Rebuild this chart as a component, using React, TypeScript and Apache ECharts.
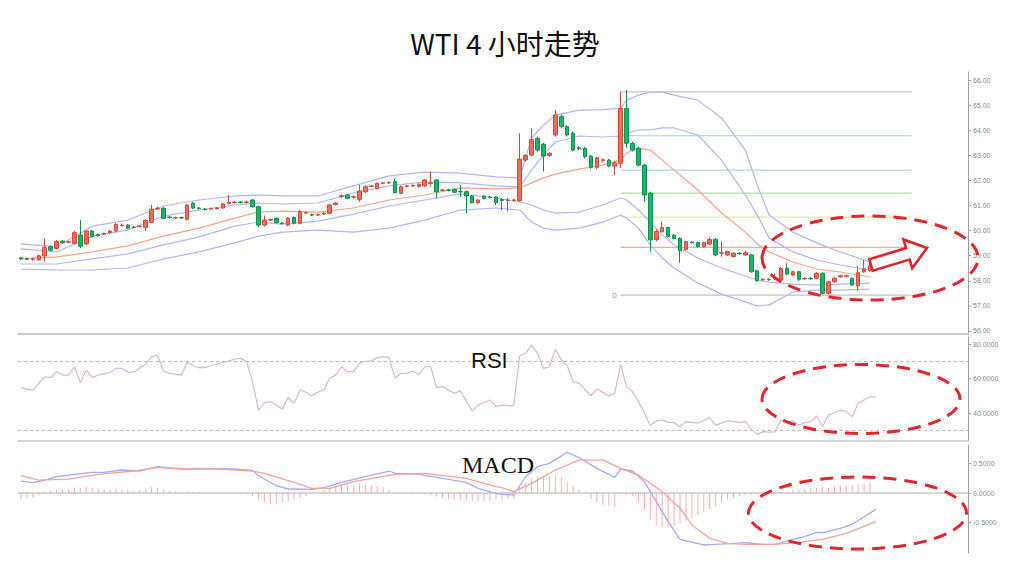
import React, { useEffect, useRef } from "react";
import * as echarts from "echarts";

// ---------------- data ----------------
const SLOT_COUNT = 160;
const categories: string[] = Array.from({ length: SLOT_COUNT }, (_, i) => `K${i + 1}`);

// [open, close, low, high]
const candles: number[][] = [
  [58.92, 58.88, 58.83, 58.96], [58.88, 58.86, 58.82, 58.93], [58.86, 58.88, 58.8, 58.92], [58.84, 59.0, 58.8, 59.05],
  [58.99, 59.33, 58.76, 59.69], [59.36, 59.22, 59.18, 59.42], [59.29, 59.56, 59.25, 59.62], [59.58, 59.52, 59.48, 59.62],
  [59.54, 59.56, 59.5, 59.6], [59.49, 59.92, 59.45, 59.98], [59.82, 59.38, 59.3, 60.42], [59.47, 59.98, 59.43, 60.02],
  [59.98, 59.76, 59.72, 60.02], [59.84, 59.8, 59.76, 59.88], [59.86, 59.88, 59.82, 59.92], [59.92, 59.98, 59.88, 60.02],
  [59.98, 60.25, 59.95, 60.3], [60.2, 60.22, 60.16, 60.28], [60.22, 60.1, 60.06, 60.26], [60.12, 60.14, 60.08, 60.18],
  [60.16, 60.18, 60.12, 60.22], [60.13, 60.4, 59.98, 60.45], [60.33, 60.85, 60.3, 61.02], [60.86, 60.89, 60.82, 60.95],
  [60.89, 60.49, 60.45, 60.93], [60.54, 60.52, 60.48, 60.58], [60.5, 60.52, 60.46, 60.56], [60.52, 60.5, 60.46, 60.56],
  [60.45, 61.02, 60.4, 61.06], [61.09, 60.9, 60.86, 61.15], [60.9, 60.88, 60.84, 60.94], [60.86, 60.84, 60.8, 60.9],
  [60.86, 60.88, 60.82, 60.92], [60.88, 60.9, 60.84, 60.94], [60.9, 61.06, 60.86, 61.1], [61.08, 61.12, 61.04, 61.42],
  [61.12, 61.14, 61.08, 61.18], [61.14, 61.12, 61.08, 61.18], [61.12, 61.14, 61.08, 61.2], [61.22, 60.95, 60.92, 61.25],
  [60.95, 60.22, 60.13, 61.0], [60.22, 60.42, 60.16, 60.6], [60.42, 60.44, 60.38, 60.48], [60.49, 60.32, 60.28, 60.52],
  [60.3, 60.28, 60.24, 60.34], [60.22, 60.5, 60.18, 60.54], [60.52, 60.29, 60.25, 60.56], [60.29, 60.75, 60.25, 60.82],
  [60.7, 60.72, 60.66, 60.76], [60.64, 60.62, 60.58, 60.68], [60.62, 60.64, 60.58, 60.68], [60.66, 60.7, 60.62, 60.74],
  [60.69, 61.02, 60.65, 61.06], [61.04, 61.1, 61.0, 61.14], [61.35, 61.39, 61.3, 61.44], [61.42, 61.29, 61.25, 61.46],
  [61.33, 61.35, 61.28, 61.4], [61.25, 61.58, 61.15, 61.82], [61.55, 61.75, 61.5, 61.8], [61.76, 61.78, 61.72, 61.82],
  [61.68, 61.88, 61.64, 61.92], [61.88, 61.9, 61.84, 61.94], [61.9, 61.92, 61.86, 61.96], [61.95, 61.51, 61.49, 62.08],
  [61.49, 61.75, 61.45, 61.8], [61.76, 61.78, 61.72, 61.82], [61.78, 61.8, 61.74, 61.84], [61.76, 61.85, 61.72, 61.88],
  [61.78, 62.02, 61.74, 62.06], [61.88, 61.9, 61.75, 62.35], [62.02, 61.55, 61.29, 62.06], [61.6, 61.62, 61.56, 61.66],
  [61.62, 61.6, 61.56, 61.66], [61.64, 61.53, 61.5, 61.68], [61.56, 61.54, 61.35, 61.82], [61.55, 61.38, 60.69, 61.6],
  [61.38, 61.11, 61.08, 61.42], [61.11, 61.22, 61.07, 61.25], [61.38, 61.29, 61.25, 61.42], [61.34, 61.32, 61.28, 61.38],
  [61.34, 61.11, 61.02, 61.38], [61.24, 61.2, 60.82, 61.3], [61.2, 61.22, 60.76, 61.3], [61.2, 61.22, 61.16, 61.26],
  [61.19, 62.85, 61.15, 63.88], [62.81, 62.99, 62.75, 63.05], [63.01, 63.64, 62.95, 64.08], [63.68, 63.21, 63.15, 63.75],
  [63.44, 62.97, 62.35, 63.5], [62.99, 63.08, 62.95, 63.12], [63.81, 64.61, 63.75, 64.8], [64.54, 64.14, 64.08, 64.62],
  [64.14, 63.81, 63.75, 64.2], [63.88, 63.21, 63.15, 63.95], [63.3, 63.26, 63.2, 63.36], [63.28, 62.94, 62.88, 63.34],
  [62.97, 62.52, 62.46, 63.02], [62.52, 62.9, 62.46, 62.95], [62.8, 62.82, 62.74, 62.88], [62.81, 62.57, 62.52, 62.86],
  [62.57, 62.7, 62.22, 62.76], [62.68, 64.87, 62.5, 65.53], [64.87, 63.48, 63.3, 65.6], [63.48, 63.21, 63.15, 63.55],
  [63.28, 62.61, 62.55, 63.34], [62.61, 61.42, 61.15, 62.66], [61.49, 59.63, 59.16, 61.55], [59.65, 59.96, 59.58, 60.05],
  [59.96, 60.12, 59.92, 60.35], [60.12, 59.76, 59.72, 60.16], [59.82, 59.69, 59.65, 59.86], [59.69, 59.2, 58.72, 59.74],
  [59.25, 59.56, 59.2, 59.6], [59.54, 59.52, 59.48, 59.58], [59.52, 59.36, 59.32, 59.56], [59.36, 59.52, 59.32, 59.56],
  [59.47, 59.65, 59.42, 59.72], [59.65, 59.03, 58.98, 59.7], [59.1, 59.12, 58.96, 59.56], [59.03, 59.16, 58.99, 59.2],
  [58.97, 59.1, 58.93, 59.14], [59.1, 59.08, 59.04, 59.14], [59.03, 59.12, 59.0, 59.2], [59.03, 58.36, 58.32, 59.07],
  [58.4, 58.0, 57.96, 58.44], [58.04, 58.06, 58.0, 58.1], [58.06, 58.04, 58.0, 58.1], [58.08, 58.1, 58.02, 58.28],
  [58.03, 58.5, 57.99, 58.55], [58.5, 58.27, 58.22, 58.7], [58.23, 58.36, 58.2, 58.4], [58.36, 58.06, 58.0, 58.4],
  [58.08, 58.1, 58.04, 58.14], [58.1, 58.08, 58.04, 58.14], [58.1, 58.3, 58.06, 58.34], [58.3, 57.5, 57.45, 58.34],
  [57.5, 57.96, 57.45, 58.0], [57.96, 58.1, 57.92, 58.14], [58.16, 58.2, 58.12, 58.24], [58.18, 58.2, 58.14, 58.24],
  [58.1, 57.83, 57.8, 58.14], [57.8, 58.32, 57.6, 58.6], [58.36, 58.47, 58.32, 58.83], [58.4, 58.6, 58.36, 58.9],
];

// Bollinger-style envelope readings (sampled at these candle indices)
const bandIdx = [0, 6, 12, 18, 24, 30, 36, 40, 44, 50, 56, 62, 68, 74, 80, 84, 86, 88, 90, 94, 98, 101, 102, 104, 106, 108, 110, 114, 118, 122, 124, 126, 130, 134, 138, 143];
const bandUpperOuter = [59.47, 59.35, 60.18, 60.42, 60.98, 61.22, 61.38, 61.42, 61.38, 61.38, 61.78, 62.18, 62.33, 62.29, 62.14, 62.1, 63.69, 64.2, 64.6, 64.8, 64.82, 64.88, 65.2, 65.4, 65.52, 65.52, 65.4, 65.2, 64.49, 63.21, 61.82, 60.62, 59.94, 59.51, 59.15, 58.75];
const bandUpperInner = [59.27, 59.15, 59.78, 60.02, 60.58, 60.82, 61.02, 61.1, 61.06, 61.1, 61.5, 61.78, 61.94, 61.9, 61.78, 61.74, 62.41, 63.01, 63.53, 63.77, 63.73, 63.77, 63.89, 64.01, 64.01, 64.09, 64.09, 63.81, 62.81, 61.42, 60.62, 59.71, 59.15, 58.83, 58.63, 58.43];
const bandMiddle = [58.87, 58.95, 59.15, 59.39, 59.78, 60.1, 60.5, 60.74, 60.78, 60.74, 60.9, 61.22, 61.42, 61.7, 61.66, 61.7, 61.9, 62.1, 62.25, 62.45, 62.61, 62.81, 63.09, 63.29, 63.21, 62.81, 62.41, 61.62, 60.7, 59.94, 59.47, 59.15, 58.75, 58.47, 58.35, 58.15];
const bandLowerInner = [58.67, 58.67, 58.87, 59.07, 59.43, 59.75, 60.18, 60.34, 60.26, 60.38, 60.66, 60.98, 61.22, 61.46, 61.3, 61.14, 61.02, 60.82, 60.7, 60.74, 61.02, 61.3, 61.22, 60.82, 60.34, 59.82, 59.43, 58.91, 58.51, 58.19, 58.03, 57.95, 57.87, 57.83, 57.87, 57.91];
const bandLowerOuter = [58.47, 58.43, 58.43, 58.51, 58.87, 59.15, 59.51, 59.78, 59.94, 60.02, 59.94, 60.1, 60.42, 60.82, 60.9, 60.82, 60.34, 60.1, 60.02, 60.1, 60.34, 60.62, 60.5, 60.1, 59.43, 58.91, 58.51, 57.91, 57.47, 57.16, 57.0, 57.04, 57.55, 57.63, 57.63, 57.67];

// Fibonacci retracement levels
const fibLevels = [57.43, 59.33, 60.54, 61.49, 62.41, 63.78, 65.53];
const fibStart = 101;
const fibEnd = 150;

// RSI readings [candle index, value]
const rsiIdx = [0, 1, 2, 4, 5, 6, 7, 8, 9, 10, 11, 12, 13, 15, 16, 17, 18, 19, 20, 21, 22, 23, 24, 25, 27, 28, 29, 30, 31, 32, 34, 35, 36, 37, 38, 39, 40, 41, 42, 43, 44, 45, 46, 47, 48, 49, 50, 51, 52, 53, 54, 55, 56, 57, 58, 59, 60, 61, 62, 63, 64, 65, 66, 67, 68, 69, 70, 71, 73, 74, 75, 76, 77, 79, 80, 81, 82, 83, 84, 85, 86, 87, 88, 89, 90, 91, 92, 93, 94, 96, 97, 99, 100, 101, 102, 103, 104, 105, 106, 107, 108, 109, 110, 111, 112, 114, 116, 117, 119, 121, 122, 123, 124, 125, 126, 127, 128, 129, 130, 131, 132, 133, 134, 135, 136, 137, 138, 139, 140, 141, 142, 143, 144];
const rsiVal = [54.7, 53.7, 53.3, 61.0, 60.5, 64.0, 62.0, 62.0, 66.8, 57.6, 64.9, 60.5, 62.0, 63.4, 65.9, 65.9, 63.6, 63.8, 65.9, 68.2, 72.7, 73.6, 64.3, 63.0, 62.0, 69.4, 67.4, 66.3, 66.3, 67.4, 69.4, 70.1, 71.3, 71.7, 69.7, 58.1, 41.7, 46.0, 46.6, 44.6, 42.3, 48.9, 45.6, 53.3, 52.0, 50.0, 52.0, 53.3, 60.1, 62.0, 66.8, 64.0, 64.0, 68.8, 70.1, 70.1, 72.0, 72.7, 72.1, 60.1, 63.0, 63.0, 64.3, 62.4, 66.8, 66.8, 54.7, 55.3, 51.4, 52.8, 47.0, 41.2, 44.6, 47.5, 43.7, 44.6, 44.3, 44.3, 73.2, 74.6, 79.4, 74.6, 65.9, 66.8, 77.1, 70.7, 67.4, 58.1, 57.2, 50.0, 53.9, 49.9, 51.4, 68.2, 55.3, 52.4, 46.6, 40.0, 32.6, 35.4, 36.0, 34.6, 34.4, 32.1, 35.0, 34.1, 37.3, 33.0, 35.4, 34.6, 35.0, 30.5, 27.6, 29.2, 28.9, 29.0, 35.9, 34.6, 35.5, 33.0, 34.4, 35.0, 38.3, 32.1, 38.8, 40.0, 41.7, 40.9, 37.9, 45.6, 47.5, 49.4, 49.4];
const rsiGuides = [70, 30];

// MACD readings
const difIdx = [0, 2, 4, 6, 9, 12, 14, 17, 20, 23, 27, 30, 36, 39, 40, 43, 45, 49, 51, 54, 58, 62, 63, 67, 71, 75, 77, 80, 81, 83, 85, 87, 89, 92, 94, 97, 100, 101, 103, 105, 107, 109, 111, 115, 117, 120, 122, 125, 127, 130, 132, 134, 135, 138, 140, 142, 144];
const difVal = [0.203, 0.175, 0.22, 0.276, 0.317, 0.35, 0.35, 0.39, 0.373, 0.446, 0.407, 0.418, 0.407, 0.385, 0.293, 0.124, 0.068, 0.063, 0.09, 0.181, 0.276, 0.373, 0.334, 0.317, 0.249, 0.181, 0.08, -0.005, -0.022, -0.034, 0.276, 0.446, 0.503, 0.69, 0.599, 0.418, 0.266, 0.407, 0.373, 0.192, -0.147, -0.486, -0.785, -0.881, -0.87, -0.853, -0.842, -0.87, -0.87, -0.785, -0.741, -0.666, -0.67, -0.598, -0.53, -0.402, -0.276];
const deaIdx = [0, 3, 8, 13, 19, 23, 28, 33, 39, 41, 46, 49, 52, 56, 63, 68, 75, 80, 81, 83, 86, 90, 94, 98, 101, 104, 108, 111, 113, 116, 119, 122, 127, 131, 135, 139, 144];
const deaVal = [0.293, 0.22, 0.237, 0.317, 0.373, 0.429, 0.407, 0.407, 0.373, 0.334, 0.181, 0.08, 0.08, 0.192, 0.317, 0.334, 0.249, 0.107, 0.09, 0.022, 0.164, 0.39, 0.559, 0.559, 0.418, 0.305, 0.022, -0.259, -0.542, -0.768, -0.853, -0.87, -0.87, -0.836, -0.785, -0.683, -0.486];
const macdHist = [
  -0.1, -0.09, -0.07, -0.04, 0.02, 0.04, 0.05, 0.06, 0.07, 0.09, 0.08, 0.1, 0.09, 0.08, 0.07, 0.06, 0.07, 0.06, 0.05, 0.04,
  0.05, 0.07, 0.1, 0.09, 0.06, 0.04, 0.02, 0.01, 0.03, 0.02, 0.01, 0.0, -0.01, 0.0, 0.01, 0.0, -0.01, -0.01, -0.02, -0.05,
  -0.12, -0.16, -0.18, -0.18, -0.16, -0.14, -0.12, -0.08, -0.05, -0.02,
  0.02, 0.05, 0.08, 0.1, 0.13, 0.14, 0.14, 0.15, 0.15, 0.13, 0.12, 0.1, 0.06,
  0.02, 0.0, -0.01, -0.02, -0.02, -0.02,
  -0.04, -0.06, -0.08, -0.1, -0.11, -0.12, -0.13, -0.14, -0.14, -0.14, -0.13, -0.12, -0.11, -0.1, -0.09,
  0.12, 0.18, 0.24, 0.26, 0.27, 0.28, 0.3, 0.26, 0.2,
  0.12, 0.06, 0.02,
  -0.1, -0.16, -0.2, -0.22, -0.24,
  -0.02, -0.03, -0.04,
  -0.15, -0.28, -0.45, -0.55, -0.58, -0.58, -0.56, -0.52, -0.47,
  -0.42, -0.37, -0.32, -0.27, -0.22, -0.16, -0.11, -0.08,
  -0.05, -0.04, -0.03, -0.02, -0.02, -0.01, 0.01, 0.02, 0.03,
  0.05, 0.06, 0.07, 0.08, 0.09, 0.1, 0.09, 0.11, 0.12, 0.13, 0.13, 0.15, 0.16, 0.18,
];

// axis tick labels
const priceTicks = [56, 57, 58, 59, 60, 61, 62, 63, 64, 65, 66];
const rsiTicks = [40, 60, 80];
const macdTicks = [-0.5, 0, 0.5];

// ---------------- styles ----------------
const fibColors = ["#c4c4c4", "#f2a9a6", "#dfe9a6", "#b3dca6", "#a9dcd3", "#a9cde6", "#c4c4c4"];
const LAVENDER = "#b7b5f0";
const SALMON = "#f5a48f";
const RED = "#e3262b";
const AXIS_GRAY = "#a0a0a0";
const LABEL_GRAY = "#8c8c8c";

const pairs = (idx: number[], vals: number[]) => idx.map((i, k) => [i, vals[k]]);

export default function App() {
  const ref = useRef<HTMLDivElement>(null);

  useEffect(() => {
    document.body.style.margin = "0";
    if (!ref.current) return;
    const chart = echarts.init(ref.current, undefined, { renderer: "svg" });

    const xAxisBase = (gridIndex: number, lineWidth: number) => ({
      type: "category",
      gridIndex,
      data: categories,
      boundaryGap: true,
      axisLabel: { show: false },
      axisTick: { show: false },
      splitLine: { show: false },
      axisLine: { show: true, lineStyle: { color: "#c9c9c9", width: lineWidth } },
    });

    const yAxisBase = (gridIndex: number, min: number, max: number, ticks: number[], digits: number) => ({
      type: "value",
      gridIndex,
      position: "right",
      min,
      max,
      splitLine: { show: false },
      axisLine: { show: true, lineStyle: { color: AXIS_GRAY, width: 1 } },
      axisTick: { show: true, length: 3, customValues: ticks, lineStyle: { color: AXIS_GRAY } },
      axisLabel: {
        show: true,
        customValues: ticks,
        formatter: (v: number) => Number(v).toFixed(digits),
        fontSize: 7,
        color: LABEL_GRAY,
        margin: 5,
        fontFamily: "Liberation Sans",
      },
    });

    const bandLine = (name: string, vals: number[], color: string) => ({
      name,
      type: "line",
      xAxisIndex: 0,
      yAxisIndex: 0,
      data: pairs(bandIdx, vals),
      showSymbol: false,
      symbol: "none",
      smooth: false,
      z: 2,
      lineStyle: { color, width: 1.2 },
      silent: true,
    });

    const fibSeries = fibLevels.map((lvl, k) => ({
      name: `fib${k}`,
      type: "line",
      xAxisIndex: 0,
      yAxisIndex: 0,
      data: [[fibStart, lvl], [fibEnd, lvl]],
      showSymbol: false,
      symbol: "none",
      z: 1,
      lineStyle: { color: fibColors[k], width: 1.2 },
      silent: true,
    }));

    chart.setOption({
      animation: false,
      backgroundColor: "#ffffff",
      title: {
        text: "WTI 4 小时走势",
        left: "center",
        top: 24,
        textStyle: { fontFamily: "Noto Sans CJK SC", fontSize: 28, fontWeight: "normal", color: "#111111" },
      },
      grid: [
        { left: 18, right: 42, top: 72, height: 262, outerBoundsMode: "none" },
        { left: 18, right: 42, top: 337, height: 104, outerBoundsMode: "none" },
        { left: 18, right: 42, top: 445, height: 108, outerBoundsMode: "none" },
      ],
      xAxis: [xAxisBase(0, 2), xAxisBase(1, 1.5), xAxisBase(2, 1.5)],
      yAxis: [
        yAxisBase(0, 55.88, 66.32, priceTicks, 2),
        yAxisBase(1, 23.77, 84.06, rsiTicks, 4),
        yAxisBase(2, -1.017, 0.814, macdTicks, 4),
      ],
      series: [
        ...fibSeries,
        bandLine("upperOuter", bandUpperOuter, LAVENDER),
        bandLine("upperInner", bandUpperInner, LAVENDER),
        bandLine("middle", bandMiddle, SALMON),
        bandLine("lowerInner", bandLowerInner, LAVENDER),
        bandLine("lowerOuter", bandLowerOuter, LAVENDER),
        {
          name: "WTI",
          type: "candlestick",
          xAxisIndex: 0,
          yAxisIndex: 0,
          data: candles,
          barWidth: 4,
          z: 3,
          itemStyle: {
            color: "#ef6a5b",
            color0: "#1fb26c",
            borderColor: "#d24b3b",
            borderColor0: "#14904f",
            borderWidth: 1,
          },
        },
        {
          name: "RSI",
          type: "line",
          xAxisIndex: 1,
          yAxisIndex: 1,
          data: pairs(rsiIdx, rsiVal),
          showSymbol: false,
          symbol: "none",
          lineStyle: { color: "#d9b9d9", width: 1.2 },
          markLine: {
            silent: true,
            symbol: "none",
            label: { show: false },
            lineStyle: { color: "#bdbdbd", type: [3, 3], width: 1 },
            data: rsiGuides.map((v) => ({ yAxis: v })),
          },
        },
        {
          name: "MACD",
          type: "bar",
          xAxisIndex: 2,
          yAxisIndex: 2,
          data: macdHist,
          barWidth: 1,
          itemStyle: { color: "#f5b0b0" },
          silent: true,
        },
        {
          name: "DIF",
          type: "line",
          xAxisIndex: 2,
          yAxisIndex: 2,
          data: pairs(difIdx, difVal),
          showSymbol: false,
          symbol: "none",
          lineStyle: { color: "#aaaaf2", width: 1.3 },
        },
        {
          name: "DEA",
          type: "line",
          xAxisIndex: 2,
          yAxisIndex: 2,
          data: pairs(deaIdx, deaVal),
          showSymbol: false,
          symbol: "none",
          lineStyle: { color: "#f4a3a3", width: 1.3 },
        },
      ],
    });

    const fib0 = chart.convertToPixel({ xAxisIndex: 0, yAxisIndex: 0 }, [fibStart, fibLevels[0]]) as number[];

    // arrow geometry (annotation)
    const tail = [871, 265];
    const tip = [927, 248];
    const dx = tip[0] - tail[0];
    const dy = tip[1] - tail[1];
    const len = Math.sqrt(dx * dx + dy * dy);
    const ux = dx / len, uy = dy / len;
    const nx = -uy, ny = ux;
    const shaftW = 6, headW = 15, headL = 20;
    const bx = tip[0] - headL * ux, by = tip[1] - headL * uy;
    const arrowPts = [
      [tail[0] - shaftW * nx, tail[1] - shaftW * ny],
      [bx - shaftW * nx, by - shaftW * ny],
      [bx - headW * nx, by - headW * ny],
      [tip[0], tip[1]],
      [bx + headW * nx, by + headW * ny],
      [bx + shaftW * nx, by + shaftW * ny],
      [tail[0] + shaftW * nx, tail[1] + shaftW * ny],
    ];

    const dashed = { fill: "none", stroke: RED, lineWidth: 3, lineDash: [13, 8] };

    chart.setOption({
      graphic: [
        {
          type: "text",
          x: fib0[0] - 4,
          y: fib0[1],
          style: { text: "0", fontSize: 8, fill: "#9a9a9a", align: "right", verticalAlign: "middle", fontFamily: "Liberation Sans" },
          z: 10,
        },
        {
          type: "text",
          x: 471,
          y: 360,
          style: { text: "RSI", fontSize: 22, fill: "#111", verticalAlign: "middle", fontFamily: "Liberation Sans" },
          z: 10,
        },
        {
          type: "text",
          x: 462,
          y: 465,
          style: { text: "MACD", fontSize: 24, fill: "#111", verticalAlign: "middle", fontFamily: "Liberation Serif" },
          z: 10,
        },
        { type: "ellipse", shape: { cx: 870, cy: 258, rx: 108, ry: 42 }, style: dashed, z: 20 },
        { type: "ellipse", shape: { cx: 861, cy: 399, rx: 99, ry: 34.5 }, style: dashed, z: 20 },
        { type: "ellipse", shape: { cx: 857.5, cy: 513, rx: 109, ry: 36 }, style: dashed, z: 20 },
        {
          type: "polygon",
          shape: { points: arrowPts },
          style: { fill: "#ffffff", stroke: RED, lineWidth: 2.6, lineJoin: "miter" },
          z: 21,
        },
      ],
    });

    return () => chart.dispose();
  }, []);

  return <div ref={ref} style={{ width: 1010, height: 563 }} />;
}
